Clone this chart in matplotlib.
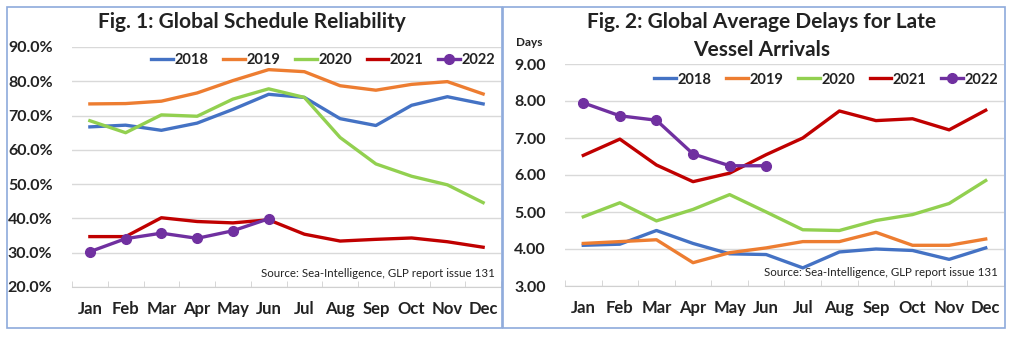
import matplotlib
matplotlib.use("Agg")
import matplotlib.pyplot as plt
from matplotlib.patches import Rectangle

plt.rcParams['font.family'] = ['Lato', 'DejaVu Sans']

months = ["Jan", "Feb", "Mar", "Apr", "May", "Jun",
          "Jul", "Aug", "Sep", "Oct", "Nov", "Dec"]
years = ["2018", "2019", "2020", "2021", "2022"]
colors = ["#4472C4", "#ED7D31", "#92D050", "#C00000", "#7030A0"]

# Fig 1: schedule reliability (%)
rel_2018 = [66.7, 67.2, 65.7, 67.8, 71.8, 76.2, 75.3, 69.1, 67.1, 73.0, 75.5, 73.4]
rel_2019 = [73.4, 73.5, 74.2, 76.6, 80.2, 83.4, 82.8, 78.7, 77.4, 79.1, 79.9, 76.3]
rel_2020 = [68.5, 65.0, 70.2, 69.8, 74.8, 77.8, 75.3, 63.6, 55.9, 52.3, 49.8, 44.6]
rel_2021 = [34.7, 34.7, 40.2, 39.1, 38.7, 39.6, 35.4, 33.4, 33.9, 34.3, 33.2, 31.6]
rel_2022 = [30.3, 34.1, 35.7, 34.2, 36.4, 39.9]

# Fig 2: average delay for late vessels (days)
del_2018 = [4.10, 4.13, 4.50, 4.15, 3.87, 3.85, 3.49, 3.92, 4.00, 3.96, 3.72, 4.03]
del_2019 = [4.15, 4.20, 4.25, 3.63, 3.90, 4.03, 4.20, 4.20, 4.45, 4.10, 4.10, 4.27]
del_2020 = [4.87, 5.25, 4.76, 5.07, 5.47, 5.00, 4.52, 4.50, 4.77, 4.93, 5.23, 5.85]
del_2021 = [6.53, 6.97, 6.27, 5.82, 6.05, 6.55, 7.00, 7.73, 7.47, 7.52, 7.22, 7.75]
del_2022 = [7.95, 7.60, 7.48, 6.57, 6.25, 6.25]

W, H = 1012, 337
fig = plt.figure(figsize=(W / 100, H / 100), dpi=100)

# panel frames
for x0, x1 in [(7, 502), (503, 1005)]:
    fig.patches.append(Rectangle((x0 / W, 1 - 328 / H), (x1 - x0) / W, (328 - 7) / H,
                                 transform=fig.transFigure, fill=False,
                                 edgecolor="#8EAADB", linewidth=1.2))


def px_axes(left, right, top, bottom):
    return fig.add_axes([left / W, 1 - bottom / H, (right - left) / W, (bottom - top) / H])


def style(ax, series, ymin, ymax, step, fmt, leg_y):
    x = list(range(12))
    for i, (vals, c) in enumerate(zip(series, colors)):
        if i == 4:
            ax.plot(x[:len(vals)], vals, color=c, lw=2.4, marker="o", ms=7,
                    label=years[i], zorder=5)
        else:
            ax.plot(x[:len(vals)], vals, color=c, lw=2.4, label=years[i], zorder=3)
    ax.set_xlim(-0.5, 11.5)
    ax.set_ylim(ymin, ymax)
    ticks = [ymin + k * step for k in range(int(round((ymax - ymin) / step)) + 1)]
    ax.set_yticks(ticks)
    ax.set_yticklabels([fmt.format(t) for t in ticks], fontsize=11.5,
                       fontweight="bold", color="#222222")
    ax.set_xticks(x)
    ax.set_xticklabels(months, fontsize=12, fontweight="bold", color="#222222")
    ax.set_xticks([k - 0.5 for k in range(13)], minor=True)
    ax.tick_params(axis="x", which="major", length=0, pad=10)
    ax.tick_params(axis="x", which="minor", length=4, direction="in", color="#d0d0d0")
    ax.tick_params(axis="y", length=0, pad=14)
    ax.grid(axis="y", color="#d9d9d9", lw=1)
    for s in ["top", "right", "left"]:
        ax.spines[s].set_visible(False)
    ax.spines["bottom"].set_color("#d0d0d0")
    ax.set_axisbelow(True)
    ax.patch.set_alpha(0)
    leg = ax.legend(loc="center right", bbox_to_anchor=(1.0, leg_y), ncol=5, frameon=False,
                    handlelength=1.5, handletextpad=0.1, columnspacing=1.0,
                    borderaxespad=0, prop={"weight": "bold", "size": 10.5})
    for t in leg.get_texts():
        t.set_color("#222222")
    ax.text(0.985, 0.035, "Source: Sea-Intelligence, GLP report issue 131",
            transform=ax.transAxes, ha="right", va="bottom", fontsize=8.3, color="#222222")


ax1 = px_axes(72, 501, 47, 287)
style(ax1, [rel_2018, rel_2019, rel_2020, rel_2021, rel_2022], 20, 90, 10, "{:.1f}%", 0.946)
fig.text(252 / W, 1 - 22 / H, "Fig. 1: Global Schedule Reliability", ha="center",
         va="center", fontsize=15, fontweight="bold", color="#222222")

ax2 = px_axes(565, 1004, 64, 286)
style(ax2, [del_2018, del_2019, del_2020, del_2021, del_2022], 3, 9, 1, "{:.2f}", 0.93)
fig.text(762 / W, 1 - 36 / H, "Fig. 2: Global Average Delays for Late\nVessel Arrivals",
         ha="center", va="center", fontsize=15, fontweight="bold", color="#222222",
         linespacing=1.45)
fig.text(516 / W, 1 - 43 / H, "Days", ha="left", va="center", fontsize=8.5,
         fontweight="bold", color="#222222")

fig.savefig("out.png", dpi=100, facecolor="white")
